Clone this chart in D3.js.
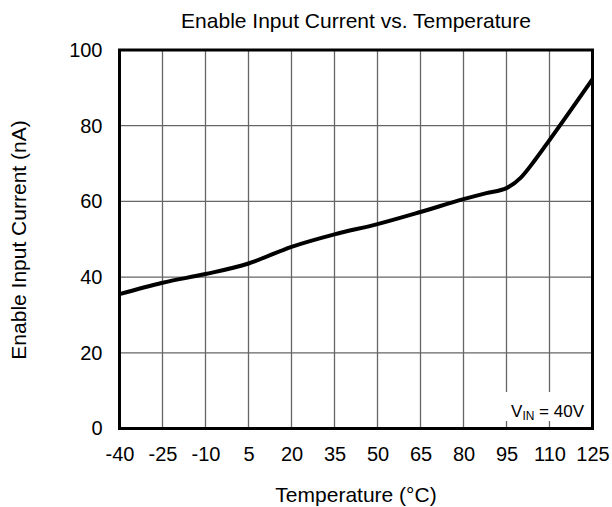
<!DOCTYPE html>
<html><head><meta charset="utf-8">
<script src="https://cdn.jsdelivr.net/npm/d3@7"></script>
<style>body{margin:0;background:#fff}text{font-family:"Liberation Sans",Arial,sans-serif;fill:#000}</style>
</head><body>
<svg id="c" width="612" height="507"></svg>
<script>
const xTicks = [-40,-25,-10,5,20,35,50,65,80,95,110,125];
const yTicks = [0,20,40,60,80,100];
const temps = [-40,-25,-10,5,20,35,50,65,80,88,95,100,105,110,125];
const current = [35.5,38.5,40.8,43.6,48.0,51.3,54.0,57.2,60.6,62.2,63.5,66.3,71.0,76.2,92.3];

const svg = d3.select("#c");
const m = {l:119.5, r:592.5, t:50, b:428.5};
const x = d3.scaleLinear().domain([-40,125]).range([m.l,m.r]);
const y = d3.scaleLinear().domain([0,100]).range([m.b,m.t]);
const FF = "Liberation Sans, Arial, sans-serif";

const g = svg.append("g");
g.selectAll(".vg").data(xTicks).join("line")
  .attr("x1",d=>x(d)).attr("x2",d=>x(d)).attr("y1",m.t).attr("y2",m.b)
  .attr("stroke","#666").attr("stroke-width",1.3);
g.selectAll(".hg").data(yTicks).join("line")
  .attr("y1",d=>y(d)).attr("y2",d=>y(d)).attr("x1",m.l).attr("x2",m.r)
  .attr("stroke","#666").attr("stroke-width",1.3);

svg.append("rect").attr("x",500).attr("y",392).attr("width",89).attr("height",29).attr("fill","#fff");
const ann = svg.append("text").attr("x",584).attr("y",417).attr("text-anchor","end").attr("font-size",17);
ann.append("tspan").text("V");
ann.append("tspan").attr("font-size",12).attr("dy",3).text("IN");
ann.append("tspan").attr("dy",-3).text(" = 40V");

svg.append("rect").attr("x",m.l).attr("y",m.t).attr("width",m.r-m.l).attr("height",m.b-m.t)
  .attr("fill","none").attr("stroke","#000").attr("stroke-width",3);

const line = d3.line().x((d,i)=>x(temps[i])).y(d=>y(d)).curve(d3.curveMonotoneX);
svg.append("path").datum(current).attr("d",line).attr("fill","none")
  .attr("stroke","#000").attr("stroke-width",4).attr("stroke-linejoin","round");

const xAxis = d3.axisBottom(x).tickValues(xTicks).tickFormat(d=>String(d)).tickSize(0).tickPadding(18);
const xa = svg.append("g").attr("transform",`translate(0,${m.b})`).call(xAxis);
xa.select(".domain").remove();
xa.selectAll("text").attr("font-size",20).attr("font-family",FF).attr("fill","#000");

const yAxis = d3.axisLeft(y).tickValues(yTicks).tickFormat(d=>String(d)).tickSize(0).tickPadding(17);
const ya = svg.append("g").attr("transform",`translate(${m.l},0)`).call(yAxis);
ya.select(".domain").remove();
ya.selectAll("text").attr("font-size",20).attr("font-family",FF).attr("fill","#000");

svg.append("text").attr("x",356).attr("y",28).attr("text-anchor","middle").attr("font-size",21)
  .text("Enable Input Current vs. Temperature");
svg.append("text").attr("x",356).attr("y",502).attr("text-anchor","middle").attr("font-size",21)
  .text("Temperature (°C)");
svg.append("text").attr("transform","translate(26,240) rotate(-90)").attr("text-anchor","middle").attr("font-size",21)
  .text("Enable Input Current (nA)");
</script>
</body></html>
